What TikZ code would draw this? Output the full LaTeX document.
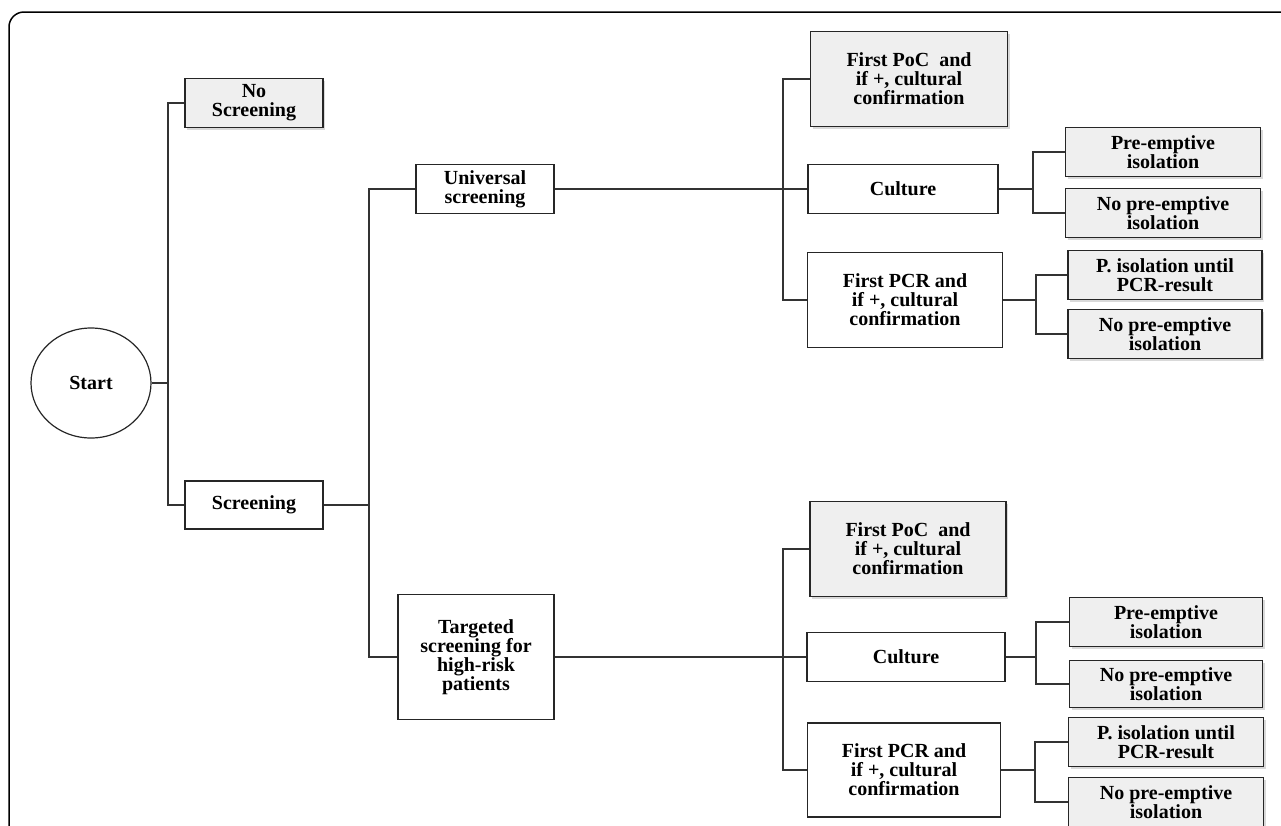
\documentclass[tikz,border=0pt]{standalone}
\usepackage{fontspec}
\setmainfont{Liberation Serif}
\usetikzlibrary{shapes.geometric,
                shadows}
\definecolor{boxgray}{HTML}{EFEFEF}
\tikzset{
  every node/.style={font=\fontsize{20}{19}\selectfont\bfseries, align=center, inner sep=0pt},
  plainbox/.style={draw=black!85, line width=1.4pt, fill=white, minimum height=49pt},
  greybox/.style={plainbox, fill=boxgray, drop shadow={opacity=0.3, shadow xshift=2pt, shadow yshift=-2pt}},
  startnode/.style={ellipse, draw=black!85, line width=1.2pt, minimum width=120pt, minimum height=110pt},
  link/.style={draw=black!80, line width=1.2pt}
}

\begin{document}
\begin{tikzpicture}[x=1pt, y=-1pt]
       \useasboundingbox (0,0) rectangle (1281,825);
       \draw[line width=1.5pt, rounded corners=15pt] (9,826) |- (1282,12);

       % left part
       \node at (91,383) [startnode] (start) {Start};
       \node at (254,103) [greybox, minimum width=138pt] (noscr) {No\\Screening};
       \node at (254,505) [plainbox, minimum width=138pt, minimum height=48pt] (scr) {Screening};
       \node at (485,189) [plainbox, minimum width=138pt] (univ) {Universal\\screening};
       \node at (476,657) [plainbox, minimum width=156pt, minimum height=125pt] (targ) {Targeted\\screening for\\high-risk\\patients};

       % universal screening
       \node at (909,79) [greybox, minimum width=197pt, minimum height=95pt] (poc1) {First PoC\ \ and\\if +, cultural\\confirmation};
       \node at (903,189) [plainbox, minimum width=190pt] (cult1) {Culture};
       \node at (905,300) [plainbox, minimum width=195pt, minimum height=95pt] (pcr1) {First PCR and\\if +, cultural\\confirmation};
       \node at (1163,152) [greybox, minimum width=195pt] (pre1) {Pre-emptive\\isolation};
       \node at (1163,213) [greybox, minimum width=195pt] (nop1) {No pre-emptive\\isolation};
       \node at (1165,275) [greybox, minimum width=194pt] (piso1) {P. isolation until\\PCR-result};
       \node at (1165,334) [greybox, minimum width=194pt] (nop2) {No pre-emptive\\isolation};

       % targeted screening
       \node at (908,549) [greybox, minimum width=196pt, minimum height=95pt] (poc2) {First PoC\ \ and\\if +, cultural\\confirmation};
       \node at (906,657) [plainbox, minimum width=198pt] (cult2) {Culture};
       \node at (904,770) [plainbox, minimum width=193pt, minimum height=94pt] (pcr2) {First PCR and\\if +, cultural\\confirmation};
       \node at (1166,622) [greybox, minimum width=193pt] (pre2) {Pre-emptive\\isolation};
       \node at (1166,684) [greybox, minimum width=193pt, minimum height=47pt] (nop3) {No pre-emptive\\isolation};
       \node at (1166,742) [greybox, minimum width=195pt] (piso2) {P. isolation until\\PCR-result};
       \node at (1166,802) [greybox, minimum width=195pt] (nop4) {No pre-emptive\\isolation};

       % connectors
       \coordinate (j1) at (168,383);
       \coordinate (j2) at (369,505);
       \coordinate (j3) at (783,189);
       \coordinate (j4) at (1033,189);
       \coordinate (j5) at (1036,300);
       \coordinate (j6) at (783,657);
       \coordinate (j7) at (1036,657);
       \coordinate (j8) at (1035,770);
       \draw[link] (start) -- (j1);
       \draw[link] (noscr.west) -| (j1) |- (scr.west);
       \draw[link] (scr.east) -- (j2) |- (univ.west);
       \draw[link] (j2) |- (targ.west);
       \draw[link] (univ.east) -- (cult1.west);
       \draw[link] (poc1.west) -| (j3) |- (pcr1.west);
       \draw[link] (cult1.east) -- (j4);
       \draw[link] (pre1.west) -| (j4) |- (nop1.west);
       \draw[link] (pcr1.east) -- (j5);
       \draw[link] (piso1.west) -| (j5) |- (nop2.west);
       \draw[link] (targ.east) -- (cult2.west);
       \draw[link] (poc2.west) -| (j6) |- (pcr2.west);
       \draw[link] (cult2.east) -- (j7);
       \draw[link] (pre2.west) -| (j7) |- (nop3.west);
       \draw[link] (pcr2.east) -- (j8);
       \draw[link] (piso2.west) -| (j8) |- (nop4.west);
\end{tikzpicture}
\end{document}
